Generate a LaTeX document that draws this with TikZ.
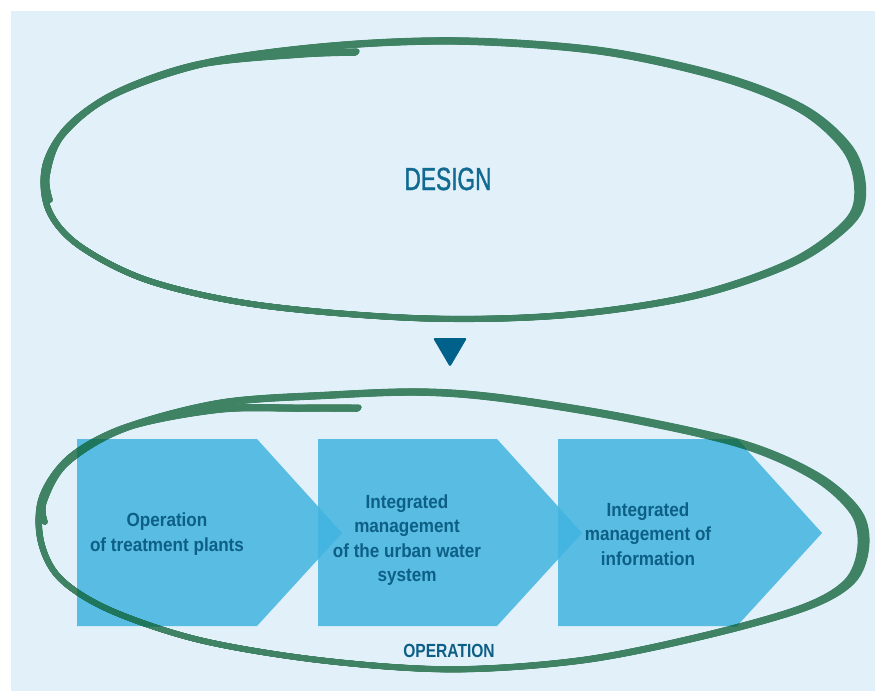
\documentclass[tikz,border=0pt]{standalone}
\usepackage{fontspec}
\setmainfont{Liberation Sans}
\newfontfamily\desfont{Liberation Sans}[FakeStretch=0.71,FakeBold=1.2]
\newfontfamily\condfont{Liberation Sans}[FakeStretch=0.9]
\newfontfamily\opfont{Liberation Sans}[FakeStretch=0.82]
\definecolor{bgblue}{HTML}{E2F0FA}
\definecolor{brushgreen}{HTML}{408264}
\definecolor{brushdark}{HTML}{1E775D}
\definecolor{chevblue}{HTML}{40B4E0}
\definecolor{textblue}{HTML}{0D5F86}
\definecolor{designblue}{HTML}{116A92}
\definecolor{triblue}{HTML}{00628B}
\begin{document}
\begin{tikzpicture}[x=1pt,y=-1pt,
  brush/.style={line width=5.5pt, line cap=round, line join=round},
  chevron/.style={fill=chevblue, fill opacity=0.85},
  chevtext/.style={text=textblue, align=center, font=\condfont\bfseries\fontsize{19}{24.5}\selectfont},
  ]
\useasboundingbox (0,0) rectangle (875,691);
\fill[white] (0,0) rectangle (875,691);
\fill[bgblue] (11,11) rectangle (875,691);

% top brush loop (widened by repeated scaled strokes)
\foreach \s in {1.000,1.001,...,1.010}{
\draw[brush, draw=brushgreen, scale around={\s:(150,250)}] plot[smooth, tension=0.55] coordinates {
  (355,53) (300,55) (200,65) (120,92) (70,126) (46,166) (49,210) (80,246)
  (150,281) (260,305) (420,318) (560,315) (690,296) (790,262) (846,222)
  (857,190) (845,150) (800,110) (720,78) (600,52) (460,42) (330,47)
  (205,64) (112,96) (62,136) (47,176) (50,200)};
}

% title
\node[text=designblue, font=\desfont\fontsize{32}{36}\selectfont] (design) at (448,179) {DESIGN};

% down triangle
\node[coordinate] (tri) at (450,352) {};
\fill[triblue, rounded corners=1.5pt] (433,338) -- (467,338) -- (450,367) -- cycle;

% bottom brush loop
\def\bottomloop{plot[smooth, tension=0.55] coordinates {
  (357,409) (300,409) (220,410) (130,427) (72,457) (43,497) (41,540)
  (60,578) (110,610) (200,640) (320,660) (450,669) (580,660) (700,636)
  (800,608) (846,582) (860,548) (853,513) (813,477) (740,445) (620,418)
  (500,399) (420,393) (330,396) (220,404) (122,430) (66,464) (44,502) (45,522)}}
\foreach \s in {1.000,1.001,...,1.010}{
\draw[brush, draw=brushgreen, scale around={\s:(150,600)}] \bottomloop;
}

% chevrons
\fill[chevron] (77,439) -- (257,439) -- (342,533) -- (257,626) -- (77,626) -- cycle;
\fill[chevron] (318,439) -- (497,439) -- (582,533) -- (497,626) -- (318,626) -- cycle;
\fill[chevron] (558,439) -- (737,439) -- (822,533) -- (737,626) -- (558,626) -- cycle;

% brush where it crosses the chevrons
\begin{scope}
\clip (77,439) -- (257,439) -- (342,533) -- (257,626) -- (77,626) -- cycle
      (318,439) -- (497,439) -- (582,533) -- (497,626) -- (318,626) -- cycle
      (558,439) -- (737,439) -- (822,533) -- (737,626) -- (558,626) -- cycle;
\foreach \s in {1.000,1.001,...,1.010}{
\draw[brush, draw=brushdark, scale around={\s:(150,600)}] \bottomloop;
}
\end{scope}

\node[chevtext] (c1) at (167,534) {Operation\\of treatment plants};
\node[chevtext] (c2) at (407,540) {Integrated\\management\\of the urban water\\system};
\node[chevtext] (c3) at (648,534) {Integrated\\management of\\information};

\node[text=textblue, font=\opfont\bfseries\fontsize{19}{22}\selectfont] (op) at (449,651) {OPERATION};
\end{tikzpicture}
\end{document}
